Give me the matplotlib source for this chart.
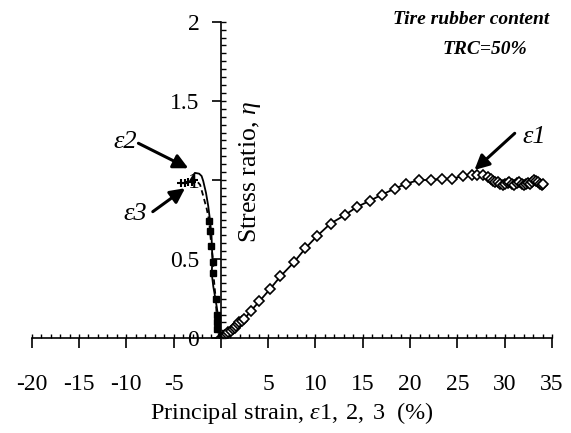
import matplotlib
matplotlib.use("Agg")
import matplotlib.pyplot as plt
from matplotlib.ticker import MultipleLocator, FixedLocator

plt.rcParams['font.family'] = ['Liberation Serif', 'DejaVu Serif']
plt.rcParams['mathtext.fontset'] = 'custom'
plt.rcParams['mathtext.rm'] = 'Liberation Serif'
plt.rcParams['mathtext.it'] = 'Liberation Serif:italic'

# principal strain e1 (%), with stress ratio
eps1 = [0, 0.2, 0.4, 0.6, 0.8, 1.06, 1.25, 1.45, 1.59, 1.8, 1.94, 2.2, 2.47, 3.18, 4.06,
        5.19, 6.29, 7.70, 8.94, 10.18, 11.59, 13.07, 14.38, 15.72, 17.03, 18.37, 19.61,
        20.95, 22.26, 23.32, 24.45, 25.55, 26.5, 27.1, 27.7, 28.24, 28.5, 28.8, 29.0, 29.3,
        29.5, 29.8, 30.0, 30.3, 30.5, 30.8, 31.0, 31.3, 31.5, 31.8, 32.0, 32.3, 32.5, 32.7,
        32.9, 33.1, 33.3, 33.5, 33.7, 33.9, 34.0]
eta1 = [0, 0.01, 0.02, 0.03, 0.04, 0.048, 0.058, 0.068, 0.08, 0.09, 0.10, 0.11, 0.12,
        0.174, 0.233, 0.311, 0.391, 0.479, 0.569, 0.647, 0.725, 0.777, 0.830, 0.868, 0.908,
        0.945, 0.977, 1.0, 1.0, 1.008, 1.008, 1.025, 1.03, 1.032, 1.03, 1.02, 1.005, 0.995,
        0.985, 0.985, 0.975, 0.97, 0.975, 0.98, 0.985, 0.975, 0.97, 0.98, 0.985, 0.975,
        0.97, 0.975, 0.98, 0.975, 0.99, 1.0, 0.995, 0.985, 0.975, 0.97, 0.975]

# e2 (solid line)
eps2 = [-3.3, -2.75, -2.3, -2.04, -1.87, -1.58, -1.34, -1.16, -0.99, -0.9, -0.97, -0.8,
        -0.55, -0.34, -0.2, 0]
eta2 = [0.99, 1.045, 1.04, 1.025, 0.994, 0.92, 0.836, 0.75, 0.646, 0.5, 0.41, 0.326,
        0.24, 0.158, 0.05, 0]

# e3 (dashed, small squares)
eps3 = [-4.2, -3.8, -3.45, -3.1, -2.8, -2.5, -2.2, -1.87, -1.51, -1.23, -1.16, -1.0,
        -0.8, -0.8, -0.55, -0.45, -0.42, -0.4, -0.2, 0]
eta3 = [0.98, 0.98, 0.985, 0.99, 1.0, 0.99, 0.97, 0.90, 0.82, 0.74, 0.68, 0.58, 0.48,
        0.41, 0.25, 0.15, 0.10, 0.06, 0.02, 0]

xticks = [-20, -15, -10, -5, 0, 5, 10, 15, 20, 25, 30, 35]
xticklabels = ['-20', '-15', '-10', '-5', '', '5', '10', '15', '20', '25', '30', '35']
yticks = [0, 0.5, 1, 1.5, 2]
yticklabels = ['0', '0.5', '1', '1.5', '2']

fig = plt.figure(figsize=(5.71, 4.33), dpi=100)
ax = fig.add_axes([31.7 / 571, 1 - 338.3 / 433, (552 - 31.7) / 571, (338.3 - 21.7) / 433])

ax.plot(eps1, eta1, color='k', lw=1.3, marker='D', markersize=5.2,
        markerfacecolor='white', markeredgecolor='k', markeredgewidth=1.2)
ax.plot(eps2, eta2, color='k', lw=1.3)
ax.plot(eps3, eta3, color='k', lw=1.3, ls=(0, (3, 2)))
ax.plot(eps3[9:18], eta3[9:18], ls='none', marker='s', markersize=3.8, color='k')
ax.plot(eps3[:5], eta3[:5], ls='none', marker='+', markersize=6, color='k', mew=1.5)

ax.set_xlim(-20, 35)
ax.set_ylim(0, 2)
ax.spines['top'].set_visible(False)
ax.spines['right'].set_visible(False)
ax.spines['left'].set_position(('data', 0))
ax.spines['left'].set_linewidth(1.2)
ax.spines['bottom'].set_linewidth(1.2)

ax.xaxis.set_major_locator(FixedLocator(xticks))
ax.set_xticklabels(xticklabels)
ax.xaxis.set_minor_locator(MultipleLocator(1))
ax.yaxis.set_major_locator(FixedLocator(yticks))
ax.set_yticklabels(yticklabels)
ax.yaxis.set_minor_locator(MultipleLocator(0.05))
ax.xaxis.remove_overlapping_locs = False
ax.yaxis.remove_overlapping_locs = False

ax.tick_params(axis='x', which='major', direction='out', length=7.5, width=1.2,
               labelsize=17, pad=18)
ax.tick_params(axis='x', which='minor', direction='in', length=3.2, width=1)
ax.tick_params(axis='y', which='major', direction='out', length=6.5, width=1.2,
               labelsize=17, pad=9)
ax.tick_params(axis='y', which='minor', direction='in', length=3.6, width=1)

ax.set_xlabel(r'Principal strain, $\mathit{ε1,\;2,\;3}$  (%)', fontsize=17.5, labelpad=4)
ax.text(3.07, 0.6, r'Stress ratio, $\mathit{η}$', rotation=90, ha='center', va='bottom',
        fontsize=18.5)

fig.text(471 / 571, 1 - 20 / 433, 'Tire rubber content', ha='center', va='center',
         fontsize=14, fontweight='bold', fontstyle='italic')
fig.text(485 / 571, 1 - 50 / 433, 'TRC=50%', ha='center', va='center',
         fontsize=14, fontweight='bold', fontstyle='italic')

arrow = dict(arrowstyle='-|>', color='k', lw=2.2, mutation_scale=22, shrinkA=0, shrinkB=0)
ax.annotate('', xy=(26.8, 1.063), xytext=(31.06, 1.295), arrowprops=arrow)
ax.text(31.9, 1.27, 'ε1', fontsize=19, fontstyle='italic', ha='left', va='center')
ax.annotate('', xy=(-3.44, 1.074), xytext=(-8.72, 1.232), arrowprops=arrow)
ax.text(-11.4, 1.243, 'ε2', fontsize=19, fontstyle='italic', ha='left', va='center')
ax.annotate('', xy=(-3.79, 0.948), xytext=(-7.2, 0.80), arrowprops=arrow)
ax.text(-10.34, 0.785, 'ε3', fontsize=19, fontstyle='italic', ha='left', va='center')

fig.savefig('out.png', dpi=100)
